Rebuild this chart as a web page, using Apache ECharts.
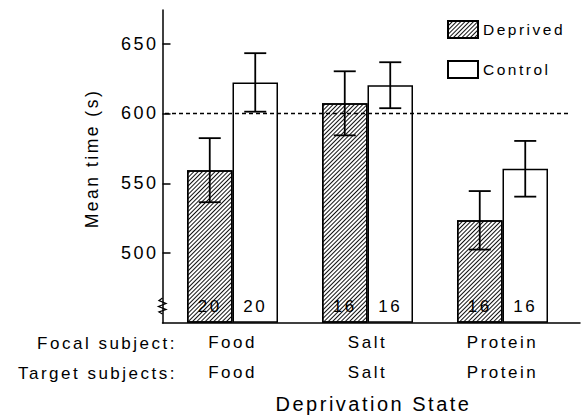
<!DOCTYPE html>
<html><head><meta charset="utf-8">
<script src="https://cdn.jsdelivr.net/npm/echarts@6/dist/echarts.min.js"></script>
<style>
html,body{margin:0;padding:0;background:#fff;}
#chart{width:583px;height:419px;}
#chart text{letter-spacing:2.5px;}
</style></head><body><div id="chart"></div>
<script>
// ---- data ----
const categories = ['Food', 'Salt', 'Protein'];          // focal subject
const targetSubjects = ['Food', 'Salt', 'Protein'];
const deprivedMean = [559, 607, 523];
const deprivedErr = [23, 23, 21];
const controlMean = [622, 620, 560];
const controlErr = [21, 16.5, 20];
const deprivedN = [20, 16, 16];
const controlN = [20, 16, 16];
const yTicks = [500, 550, 600, 650];
const referenceLine = 600;
const rowHeaders = ['Focal subject:', 'Target subjects:'];
const seriesNames = ['Deprived', 'Control'];

// ---- style constants ----
const FONT = 'Liberation Sans';
const BAR_W = 45.5;
const Y_MIN = 450, Y_MAX = 674;
const GRID_TOP = 10, GRID_BOTTOM = 96;

const errData = [];
categories.forEach((c, i) => {
  errData.push([i, deprivedMean[i] - deprivedErr[i], deprivedMean[i] + deprivedErr[i], -1]);
  errData.push([i, controlMean[i] - controlErr[i], controlMean[i] + controlErr[i], 1]);
});

function renderErr(params, api) {
  const i = api.value(0), lo = api.value(1), hi = api.value(2), side = api.value(3);
  const pLo = api.coord([i, lo]);
  const pHi = api.coord([i, hi]);
  const x = pLo[0] + side * BAR_W / 2;
  const cap = 11;
  const style = { stroke: '#000', lineWidth: 1.8 };
  return {
    type: 'group', children: [
      { type: 'line', shape: { x1: x, y1: pLo[1], x2: x, y2: pHi[1] }, style },
      { type: 'line', shape: { x1: x - cap, y1: pLo[1], x2: x + cap, y2: pLo[1] }, style },
      { type: 'line', shape: { x1: x - cap, y1: pHi[1], x2: x + cap, y2: pHi[1] }, style }
    ]
  };
}

// "/" hatching
const hatch = {
  symbol: 'rect', symbolSize: 1,
  dashArrayX: [1, 0], dashArrayY: [1, 2],
  rotation: -Math.PI / 4, color: '#111'
};

const chart = echarts.init(document.getElementById('chart'), null, { renderer: 'svg' });
chart.setOption({
  animation: false,
  backgroundColor: '#fff',
  textStyle: { fontFamily: FONT, color: '#000' },
  grid: [
    { left: 162.5, right: 3, top: GRID_TOP, bottom: GRID_BOTTOM },
    { left: 165, right: 13, top: GRID_TOP, bottom: GRID_BOTTOM }
  ],
  legend: {
    data: seriesNames, orient: 'vertical', left: 447, top: 20, padding: 0,
    itemWidth: 30, itemHeight: 17, itemGap: 21, icon: 'rect',
    textStyle: { fontFamily: FONT, fontSize: 15.5, lineHeight: 17, color: '#000' }
  },
  xAxis: [
    { gridIndex: 0, type: 'value', min: 0, max: 1,
      axisLine: { show: true, lineStyle: { color: '#000', width: 1.5 } },
      axisTick: { show: false }, axisLabel: { show: false }, splitLine: { show: false } },
    { gridIndex: 1, type: 'category', data: categories,
      axisLine: { show: false }, axisTick: { show: false },
      axisLabel: {
        margin: 5, fontSize: 17, lineHeight: 30, color: '#000', fontFamily: FONT,
        formatter: (v, idx) => v + '\n' + targetSubjects[idx]
      },
      name: 'Deprivation State', nameLocation: 'middle', nameGap: 72,
      nameTextStyle: { fontSize: 20, color: '#000', fontFamily: FONT, padding: [0, 0, 0, 12] } }
  ],
  yAxis: [
    { gridIndex: 0, type: 'value', min: Y_MIN, max: Y_MAX, interval: 50,
      axisLine: { show: true, lineStyle: { color: '#000', width: 1.5 } },
      axisTick: { show: true, inside: true, length: 8, customValues: yTicks, lineStyle: { color: '#000', width: 1.5 } },
      axisLabel: { customValues: yTicks, fontSize: 18, color: '#000', margin: 4, fontFamily: FONT },
      splitLine: { show: false },
      name: 'Mean time (s)', nameLocation: 'middle', nameGap: 62,
      nameTextStyle: { fontSize: 17.5, color: '#000', fontFamily: FONT, padding: [0, 0, 0, 16] } },
    { gridIndex: 1, type: 'value', min: Y_MIN, max: Y_MAX, show: false }
  ],
  series: [
    { name: seriesNames[0], type: 'bar', xAxisIndex: 1, yAxisIndex: 1,
      data: deprivedMean, barWidth: BAR_W, barGap: '0%',
      itemStyle: { color: '#fff', borderColor: '#000', borderWidth: 1.5, decal: hatch },
      label: { show: true, position: 'insideBottom', distance: 8, fontSize: 17, color: '#000', fontFamily: FONT,
        formatter: p => String(deprivedN[p.dataIndex]) },
      markLine: { silent: true, symbol: 'none', label: { show: false },
        lineStyle: { type: [4, 3], color: '#000', width: 1.3 },
        data: [{ yAxis: referenceLine }] },
      z: 2 },
    { name: seriesNames[1], type: 'bar', xAxisIndex: 1, yAxisIndex: 1,
      data: controlMean, barWidth: BAR_W, barGap: '0%',
      itemStyle: { color: '#fff', borderColor: '#000', borderWidth: 1.5 },
      label: { show: true, position: 'insideBottom', distance: 8, fontSize: 17, color: '#000', fontFamily: FONT,
        formatter: p => String(controlN[p.dataIndex]) },
      z: 2 },
    { name: 'error', type: 'custom', xAxisIndex: 1, yAxisIndex: 1,
      data: errData, renderItem: renderErr, encode: { x: 0, y: [1, 2] }, z: 5 }
  ],
  graphic: [
    { type: 'text', x: 177, y: 343,
      style: { text: rowHeaders[0], font: '17px "Liberation Sans"', fill: '#000', textAlign: 'right', textVerticalAlign: 'middle' } },
    { type: 'text', x: 177, y: 373,
      style: { text: rowHeaders[1], font: '17px "Liberation Sans"', fill: '#000', textAlign: 'right', textVerticalAlign: 'middle' } },
    { type: 'polyline', z: 10,
      shape: { points: [[162.5, 298], [159, 300.5], [166, 303.5], [158.5, 306.5], [166, 309.5], [159, 312], [162.5, 314]] },
      style: { stroke: '#000', lineWidth: 1.3, fill: null } }
  ]
});
</script></body></html>
